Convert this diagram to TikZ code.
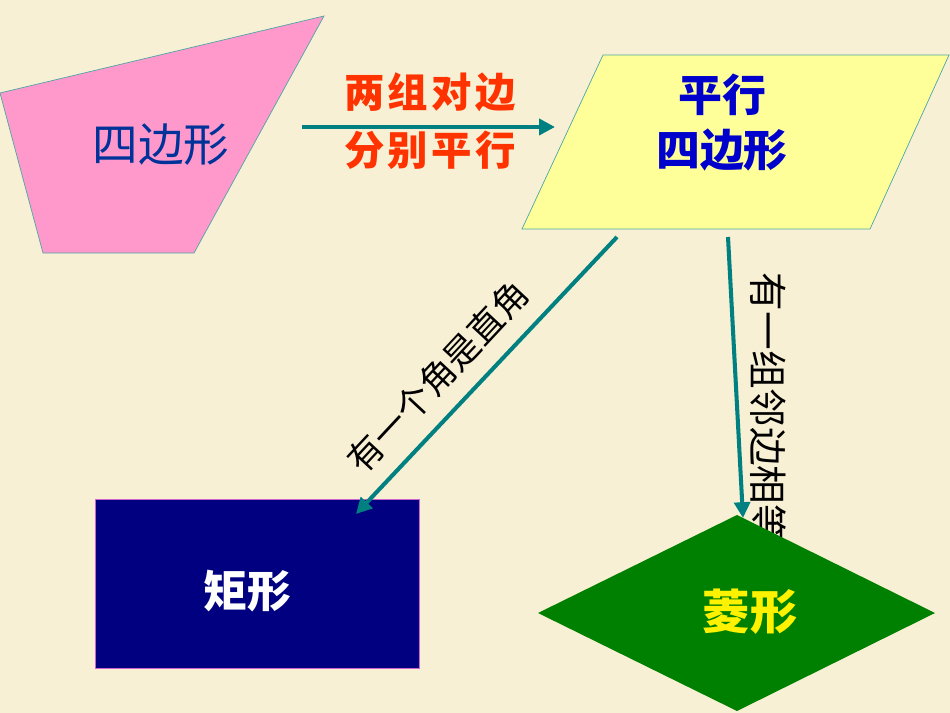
\documentclass[tikz,border=0pt]{standalone}
\usepackage{fontspec}
\newfontfamily\cjk{Noto Sans CJK SC}
\newfontfamily\cjkwide[LetterSpace=8]{Noto Sans CJK SC}
\usetikzlibrary{arrows.meta}
\definecolor{parchment}{RGB}{248,240,212}
\definecolor{arrowteal}{RGB}{0,128,128}
\definecolor{quadpink}{RGB}{255,153,204}
\definecolor{paryellow}{RGB}{255,255,153}
\definecolor{rectnavy}{RGB}{0,0,128}
\definecolor{rhombgreen}{RGB}{0,128,0}
\definecolor{condred}{RGB}{255,51,0}
\tikzset{
  link/.style={draw=arrowteal, line width=2.3pt, -{Triangle[length=9pt,width=9pt]}},
  cond/.style={font=\cjkwide\bfseries\fontsize{23}{26}\selectfont, text=condred},
  sidelbl/.style={font=\cjk\fontsize{20}{24}\selectfont, text=black, inner sep=0pt},
  shapelbl/.style={font=\cjk\bfseries\fontsize{25}{28}\selectfont}
}

\begin{document}
\begin{tikzpicture}[x=0.02cm, y=-0.02cm]
		%%%%% START %%%%%
		\useasboundingbox (0, 0) rectangle (950, 713);
		\fill[parchment] (0, 0) rectangle (950, 713);
		
		% quadrilateral
		\draw[arrowteal!70, fill=quadpink] (0, 93) -- (324, 16) -- (194, 253) -- (43, 253) -- cycle;
		\node[font=\cjk\fontsize{26}{30}\selectfont, text={rgb,255:red,0;green,51;blue,153}] (quad) at (161, 145) {四边形};
		
		% parallelogram
		\draw[arrowteal!70, fill=paryellow] (603, 55) -- (949, 55) -- (870, 229) -- (522, 229) -- cycle;
		\node[shapelbl, text={rgb,255:red,0;green,0;blue,204}] (par1) at (722, 95) {平行};
		\node[shapelbl, text={rgb,255:red,0;green,0;blue,204}] (par2) at (722, 150) {四边形};
		
		% conditions on the horizontal arrow
		\node[cond] (cond1) at (430, 92) {两组对边};
		\node[cond] (cond2) at (430, 150) {分别平行};
		\coordinate (h0) at (302, 127);
		\coordinate (h1) at (555, 127);
		\draw[link] (h0) -- (h1);
		
		% rectangle
		\draw[draw={rgb,255:red,204;green,102;blue,204}, fill=rectnavy] (95, 499) rectangle (419, 668);
		\node[shapelbl, text=white] (rect) at (247, 591) {矩形};
		
		% arrow to the rectangle
		\coordinate (d0) at (617, 237);
		\coordinate (d1) at (356, 514);
		\draw[link] (d0) -- (d1);
		\node[sidelbl, rotate=47] (angle) at (438, 377) {有一个角是直角};
		
		% arrow to the rhombus
		\coordinate (v0) at (728, 237);
		\coordinate (v1) at (743, 518);
		\draw[link] (v0) -- (v1);
		\node[sidelbl, font=\cjk\fontsize{22}{26}\selectfont, rotate=-90] (adj) at (768, 408) {有一组邻边相等};
		
		% rhombus
		\fill[rhombgreen] (538, 613) -- (737, 515) -- (935, 613) -- (737, 711) -- cycle;
		\node[shapelbl, font=\cjk\bfseries\fontsize{27}{30}\selectfont, text=yellow] (rhomb) at (750, 612) {菱形};
		%%%%% END %%%%%
	\end{tikzpicture}
\end{document}
